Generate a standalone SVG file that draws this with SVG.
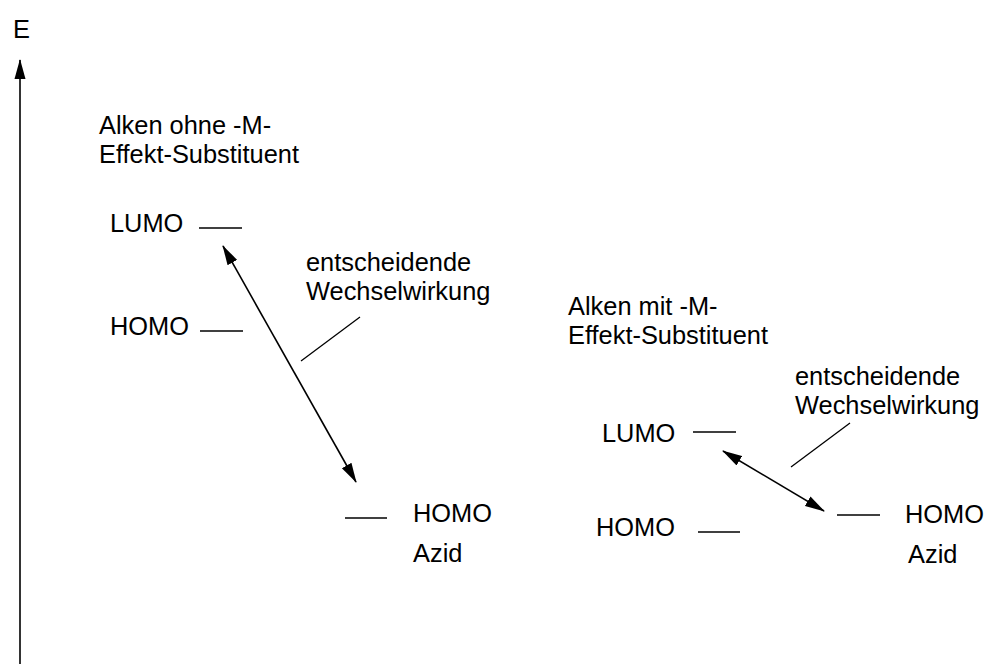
<svg xmlns="http://www.w3.org/2000/svg" width="985" height="664" viewBox="0 0 985 664">
<style>
text{font-family:"Liberation Sans",Arial,sans-serif;font-size:25.4px;fill:#000}
.lvl{stroke:#000;stroke-width:1.3;fill:none}
.con{stroke:#000;stroke-width:1.6;fill:none}
.ptr{stroke:#000;stroke-width:1.3;fill:none}
</style>
<defs>
<marker id="ah" markerUnits="userSpaceOnUse" markerWidth="22" markerHeight="12" refX="19" refY="5.5" orient="auto-start-reverse" viewBox="0 0 22 11">
<path d="M0,0 L20,5.5 L0,11 Z" fill="#000"/>
</marker>
</defs>
<rect width="985" height="664" fill="#fff"/>
<g id="axis">
<line class="con" x1="20" y1="664" x2="20" y2="60" marker-end="url(#ah)"/>
<text x="13" y="38">E</text>
</g>
<g id="left-title">
<text x="99" y="134">Alken ohne -M-</text>
<text x="99" y="163">Effekt-Substituent</text>
</g>
<g id="left-lumo">
<text x="110" y="232">LUMO</text>
<line class="lvl" x1="199" y1="228" x2="242" y2="228"/>
</g>
<g id="left-homo">
<text x="110" y="335">HOMO</text>
<line class="lvl" x1="200" y1="331" x2="243" y2="331"/>
</g>
<g id="left-label">
<text x="306" y="271">entscheidende</text>
<text x="306" y="300">Wechselwirkung</text>
</g>
<g id="left-azid">
<line class="lvl" x1="345" y1="518" x2="387" y2="518"/>
<text x="413" y="522">HOMO</text>
<text x="413" y="562">Azid</text>
</g>
<g id="right-title">
<text x="568" y="315">Alken mit -M-</text>
<text x="568" y="344">Effekt-Substituent</text>
</g>
<g id="right-label">
<text x="795" y="385">entscheidende</text>
<text x="795" y="414">Wechselwirkung</text>
</g>
<g id="right-lumo">
<text x="602" y="442">LUMO</text>
<line class="lvl" x1="693" y1="432" x2="736" y2="432"/>
</g>
<g id="right-homo">
<text x="596" y="536">HOMO</text>
<line class="lvl" x1="698" y1="532" x2="740" y2="532"/>
</g>
<g id="right-azid">
<line class="lvl" x1="837" y1="515" x2="880" y2="515"/>
<text x="905" y="523">HOMO</text>
<text x="908" y="563">Azid</text>
</g>
<g id="connectors">
<line class="con" x1="223" y1="246" x2="356" y2="482" marker-start="url(#ah)" marker-end="url(#ah)"/>
<line class="ptr" x1="360" y1="317" x2="301" y2="361"/>
<line class="con" x1="723" y1="451" x2="824" y2="511" marker-start="url(#ah)" marker-end="url(#ah)"/>
<line class="ptr" x1="850" y1="423" x2="791" y2="467"/>
</g>
</svg>
